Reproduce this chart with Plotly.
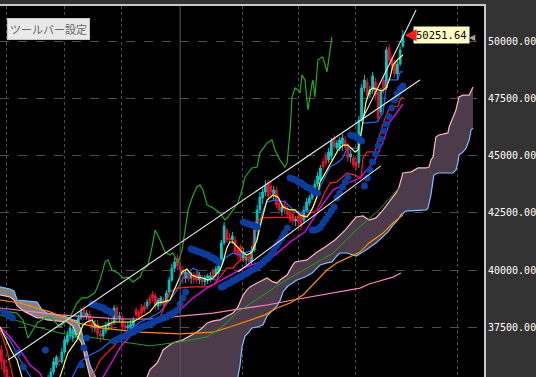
import plotly.graph_objects as go

# ---------------- candles (bar index 0..146) ----------------
bars = list(range(147))
c_open = [36520,36080,35650,35210,34860,35040,34690,34420,34600,34340,34510,34250,34420,34690,34510,34860,35040,34770,35300,35560,
          35860,36080,36000,36430,36870,37130,37040,37170,37570,37920,38260,38000,38090,37740,37480,37650,37220,37130,37350,37570,
          37700,37740,38350,37920,37920,37610,37480,37520,37610,38260,38180,38390,38440,38440,38790,38960,38880,38440,38570,38700,
          38610,39050,39570,40090,40530,40180,40010,39660,39880,39660,39750,39840,39570,39700,39490,39570,39620,40010,39840,40010,
          40360,41190,41750,41410,41320,41320,40880,41020,40530,40450,40530,40360,40880,41840,42630,43150,43410,43800,43670,43330,
          43500,42930,42540,42850,42630,42500,42450,42150,42370,42450,42190,42630,42930,43150,43410,43760,43940,44720,45030,44810,
          44980,45770,45330,45330,45510,45680,45380,44940,44900,44720,44680,46550,47950,48210,47690,47860,48210,47780,46900,48300,
          47950,49700,49260,49040,48560,49000,49780]
c_high = [36740,36170,35820,35380,35210,35210,34860,34770,34770,34690,34690,34600,34860,34860,35040,35210,35210,35430,35730,36170,
          36300,36260,36610,37090,37350,37610,37570,37740,38050,38350,38440,38260,38220,37920,37830,37830,37390,37520,37740,37920,
          37920,38480,38480,38180,38050,37740,37740,37830,37960,38390,38310,38530,38610,38740,38920,39090,39010,38790,38880,38830,
          39140,39700,40270,40530,40700,40360,40180,40010,40010,39920,39920,39970,39920,39790,39790,39840,39920,40090,40180,40270,
          41320,42100,41840,41620,41670,41490,41100,41150,40970,40700,40700,41060,41930,42850,43410,43590,43940,43940,43850,43670,
          43630,43150,42930,43060,42800,42630,42630,42370,42540,42580,42800,43150,43280,43670,43940,44290,44590,44900,45160,45330,
          45770,45900,45680,45810,45940,45860,45550,45240,45030,44900,46730,48120,48520,48390,48040,48650,48390,47910,47950,48430,
          49740,49870,49430,49170,49130,49780,50480]
c_low = [35650,35340,34950,34690,34690,34510,34250,34250,34160,34160,34080,34120,34290,34340,34420,34770,34640,34690,35210,35430,
         35730,35820,35910,36340,36740,36960,36870,37040,37390,37830,37830,37830,37610,37300,37300,37040,36870,36960,37220,37390,
         37390,37610,37740,37740,37390,37300,37300,37390,37480,37920,37830,38000,38130,38310,38440,38610,38310,38260,38440,38350,
         38480,38960,39490,39920,40010,39790,39400,39440,39490,39400,39400,39440,39400,39310,39310,39400,39490,39570,39700,39840,
         40230,41100,41190,41150,41150,40660,40450,40360,40360,40230,40180,40230,40790,41670,42500,42890,43240,43060,43150,43060,
         42710,42450,42370,42450,42280,42060,41970,41930,41930,41750,42020,42540,42800,43060,43330,43630,43850,44370,44550,44680,
         44810,45240,45240,45200,45200,45240,44720,44680,44460,44370,44460,46470,47780,47510,47510,47690,47430,46470,46770,47690,
         47860,49000,48740,48390,48300,48910,49700]
c_close = [36000,35560,35120,34860,35040,34690,34420,34600,34340,34510,34250,34420,34690,34510,34860,35040,34770,35300,35560,36000,
           36210,36000,36430,36960,37170,37480,37390,37610,37920,38180,37960,38130,37740,37480,37650,37220,37130,37390,37570,37700,
           37570,38350,37920,38000,37520,37480,37570,37650,37830,38050,37960,38130,38260,38610,38570,38790,38440,38700,38790,38480,
           39010,39570,40090,40360,40180,40010,39840,39920,39620,39790,39570,39570,39790,39490,39660,39750,39750,39700,40050,40180,
           41190,41930,41320,41320,41490,40790,40660,40530,40790,40580,40360,40880,41750,42630,43190,43410,43670,43240,43410,43500,
           42850,42630,42760,42630,42450,42190,42150,42230,42100,41930,42630,42980,43150,43500,43760,44110,44460,44500,44680,45160,
           45640,45380,45550,45680,45770,45380,44900,45070,44590,44500,46550,47950,48300,47640,47860,48470,47640,46640,47780,47860,
           49610,49170,48910,48560,49000,49610,50251.64]
last_price = 50251.64

# ---------------- indicator lines (bar index, price) ----------------
tenkan_bar = [-0.5,1.7,3.9,5.7,7.5,8.6,19.5,21.3,24.2,27.5,29.7,31.1,33.0,34.0,35.9,38.4,40.6,47.9,50.4,54.0,56.6,58.8,61.3,63.1,64.2,
              65.7,67.5,69.3,71.1,73.3,75.1,77.0,79.5,80.6,82.0,83.1,84.2,86.0,87.5,89.3,91.1,93.0,94.0,96.6,98.8,100.6,102.4,105.0,
              106.8,108.6,111.1,112.2,113.3,114.8,115.9,117.0,118.8,120.6,122.4,124.2,126.0,128.6,129.7,130.4,131.5,132.6,134.0,135.1,
              138.4,139.9,141.3,142.4,143.9,145.3,146.0]
tenkan_val = [37520,36960,36430,36080,35340,34690,34690,35340,36390,36960,37610,37740,37830,37610,37520,37610,37740,37740,37920,38180,
              38570,38610,38700,39220,39570,39920,40050,39790,39700,39660,39570,39660,40010,40360,40970,41230,41230,40970,40790,40660,
              40790,41320,41880,43060,43280,43190,42760,42630,42630,42410,42320,42500,42760,43190,43850,44070,44460,44810,45240,45460,
              45460,45160,45240,45680,46550,47340,47860,47950,47820,47950,48390,48950,49170,49300,49390]

kijun_bar = [-0.5,3.1,6.8,10.4,14.0,23.1,25.7,28.6,32.2,35.9,39.5,43.1,46.8,50.4,54.0,57.7,61.3,63.9,66.0,69.7,71.1,72.2,78.4,79.5,
             81.3,84.2,86.8,89.3,91.5,93.0,94.8,96.6,99.5,103.1,105.0,106.8,109.3,113.0,115.9,118.4,119.5,122.0,124.2,125.7,129.3,
             130.4,131.5,136.6,138.8,140.2,144.2,145.0,146.0]
kijun_val = [37390,36960,36080,35340,34690,34690,35340,36000,36300,36520,36870,37130,37390,37740,37920,38180,38700,39140,39660,40090,
             40010,39660,39570,40010,40530,40750,40660,40790,40880,41450,42500,42980,43060,42980,42760,42540,42500,42630,43630,44240,
             44500,44680,44900,45330,45330,45550,46420,46470,46860,48300,48300,48650,48650]

red_bar = [-0.5,2.0,4.2,5.7,30.8,33.0,35.9,39.5,41.3,43.1,45.7,47.9,53.3,57.0,59.5,61.3,63.9,69.7,74.8,77.0,79.5,82.0,84.2,86.8,
           91.1,92.2,94.8,108.6,111.1,114.8,115.9,117.7,119.5,122.0,125.7,128.6,130.8,131.5,133.0,135.9,137.0,139.5,141.3,144.2,
           145.3,146.0]
red_val = [37390,36520,35340,34560,34560,35340,36080,36520,36740,36960,37090,37260,37520,37740,38480,39050,39220,39270,39270,39360,
           39700,40090,40090,40450,40620,42100,42280,42320,42410,42630,42930,43410,43800,43850,44240,44150,44020,44900,45160,45160,
           45680,46640,47120,47160,47510,47560]

magenta_bar = [-0.5,3.1,6.8,10.4,14.0,17.7,35.1,37.0,40.6,43.1,46.8,50.4,54.0,59.5,65.0,69.7,74.8,82.0,87.9,94.0,99.5,105.0,110.4,
               115.9,120.6,125.0,130.4,135.9,138.8,141.3,145.0,146.0]
magenta_val = [37520,37090,36520,35860,35510,34690,34690,35340,36080,36610,37130,37480,37740,37960,38260,38790,39220,39700,40090,
               40360,40660,41230,41670,42710,43500,43760,44020,44810,45590,46470,47080,47250]

chikou_bar = [-0.5,5.7,7.9,9.7,13.0,15.9,17.7,21.3,25.0,27.5,29.3,31.1,34.0,35.9,37.7,38.8,40.2,42.4,44.2,46.0,47.9,50.4,51.5,53.3,
              54.8,55.9,57.7,59.5,61.3,62.4,64.2,65.7,66.8,67.9,69.7,71.1,72.2,73.3,74.8,77.0,79.5,81.3,82.4,84.2,86.0,87.5,88.6,
              91.1,93.0,94.0,96.6,98.4,99.5,101.3,103.1,103.9,104.6,105.0,105.7,106.8,107.9,108.6,109.3,110.4,111.1,111.5,113.0,
              113.3,114.0,114.8,115.1,116.6,117.0,118.4,118.8,119.5,120.2]
chikou_val = [38260,38130,37830,37040,37700,37920,37960,37520,37960,38570,38790,38790,39010,39570,40360,40450,40010,39880,39660,39700,
              39490,39700,40010,40230,41020,41750,41320,40790,40660,40750,40320,40880,41750,42630,43280,43630,43720,43500,42850,42710,
              42500,42190,42320,42630,42930,43500,44070,44460,44500,45110,45550,45680,45240,44810,44500,44680,45550,46120,47560,47950,
              47860,47730,48520,48300,47430,46990,48170,48300,47560,48740,49170,49300,49260,48650,49040,49610,50170]

ma_green_bar = [-0.5,10.4,21.3,39.5,54.0,65.0,74.8,80.2,86.0,90.4,96.6,102.4,111.1,120.6,129.0,137.3,144.6]
ma_green_val = [38050,37610,37260,36960,36700,36870,37090,37520,38180,38530,39010,39490,40090,40750,41750,42630,43590]

ma_orange_bar = [-0.5,6.8,17.7,27.5,35.9,50.4,65.0,77.0,83.1,90.4,95.9,100.2,105.0,109.7,114.8,118.4,122.0,126.8,130.4,133.7,
                 138.8,142.4,146.0]
ma_orange_val = [38700,38570,38180,37700,37480,37300,37220,37300,37520,37830,38050,38350,38570,38920,39570,40010,40320,40580,40790,
                 41190,41620,42060,42410]

ma_pink_bar = [-0.5,21.3,43.1,54.0,65.0,77.0,86.8,96.6,106.0,115.9,122.0,130.4,133.7,138.8,142.4,145.3]
ma_pink_val = [38350,38050,37870,37870,38000,38130,38310,38480,38700,38920,39050,39220,39400,39570,39700,39880]

# ---------------- ichimoku cloud ----------------
cloud_gray_bar = [-0.5,3.1,4.6,5.7,8.6,13.0,14.8,16.6,23.9,26.0,27.5,29.0,30.0,31.1,32.2,34.4,37.7,43.1]
cloud_gray_spanb = [39270,39180,39090,38700,38660,38610,38260,38130,37960,37830,37790,37390,36870,36430,35860,35300,34690,33900]
cloud_gray_spana = [38920,38830,38700,38440,38180,37920,37920,37830,37740,37570,37130,36870,36430,35820,35340,34690,34120,33900]

span_a_bar = [43.1,52.2,53.0,54.0,56.6,57.7,58.8,60.2,62.4,66.0,69.3,71.1,73.0,74.8,77.0,79.5,82.0,84.2,86.0,87.1,87.9,89.3,90.4,
              93.0,96.6,98.8,100.2,101.3,103.9,106.0,106.8,111.1,113.3,114.8,117.7,121.3,125.0,127.9,129.0,131.5,132.6,133.7,136.2,
              138.8,141.0,143.5,144.6,145.3,146.0,149.0,151.5,154.4,155.5,156.2,157.0,157.3,158.0,159.1,162.4,162.8,165.3,166.4,
              167.9,170.1,170.8,171.5]
span_a_val = [33900,35210,35340,35650,35950,36210,36520,36650,36830,36960,37170,37300,37480,37700,37790,37830,38000,38130,38390,38700,
              38920,39140,39270,39440,39660,39490,39440,39570,39790,40230,40360,40450,40660,40790,41010,41320,41750,42190,42320,42370,
              42280,42190,42280,42630,42980,43370,43630,43940,44240,44290,44460,44460,44500,44810,44940,45240,45810,45900,45990,46250,
              46990,47560,47640,47640,47860,47990]
span_b_bar = [43.1,72.2,85.7,86.0,86.8,87.5,88.6,89.7,91.1,93.0,95.1,96.6,98.4,100.2,101.3,102.4,104.2,105.7,107.5,110.4,113.0,
              114.8,115.9,118.4,120.2,122.0,123.1,125.7,129.0,131.5,133.7,136.2,140.6,142.4,144.2,145.3,147.1,154.4,155.1,156.2,
              157.0,157.3,158.8,164.2,165.3,166.0,166.4,167.9,169.0,170.1,170.8,171.5]
span_b_val = [33900,33900,34690,35340,35860,36650,37130,37260,37480,37520,37610,38000,38220,38440,38660,39050,39310,39440,39570,
              39700,39880,40090,40230,40320,40360,40620,40750,40750,40620,40790,40970,41190,41670,41970,42190,42410,42580,42630,42710,
              43280,43940,44150,44240,44240,44370,44680,45030,45160,45330,45680,46120,46200]

# ---------------- parabolic SAR ----------------
sar_bar = [1,2,3,4,6,8,16,29,30,31,
           33,34,35,36,37,38,39,40,
           41,42,43,44,45,46,47,48,49,50,51,52,53,54,55,56,57,58,59,60,61,62,63,64,65,66,67,
           69,70,71,72,73,74,75,76,77,78,79,
           80,81,82,83,84,85,86,87,88,89,90,91,92,93,94,95,96,97,98,99,100,101,102,103,104,
           88,89,90,91,92,93,
           105,106,107,108,109,110,111,112,113,114,115,
           113,114,115,116,117,118,119,120,121,122,123,124,125,126,
           127,128,129,130,131,
           132,133,134,135,136,137,138,139,140,141,142,143,144,145,146]
sar_val = [38180,38090,38000,37920,36390,35780,36520,35860,36610,37040,
           38530,38480,38440,38390,38350,38260,38220,38130,
           36910,36960,37040,37090,37130,37220,37260,37300,37390,37430,37520,37570,37610,37650,37700,37790,37830,37870,37920,
           37960,38050,38090,38180,38260,38530,38790,39050,
           40930,40880,40840,40790,40750,40700,40660,40580,40530,40450,40360,
           39270,39310,39400,39440,39530,39570,39660,39700,39790,39840,39920,40010,40050,40140,40230,40320,40450,40530,40660,
           40840,41060,41230,41410,41620,41840,
           42100,42060,42020,41970,41930,41880,
           44020,43980,43940,43850,43800,43720,43630,43590,43500,43410,43370,
           41750,41750,41800,41880,42060,42230,42410,42580,42760,43150,43370,43630,43850,44070,
           45900,45860,45810,45720,45640,
           43670,44020,44370,44720,45070,45420,45720,46070,46380,46690,47080,47430,47690,47910,48040]

# ---------------- trend lines ----------------
trend_a_bar = [2.4, 152.2]
trend_a_val = [36080, 48300]
trend_b_bar = [131.1, 150.8]
trend_b_val = [46550, 51350]
trend_c_bar = [86.0, 138.0]
trend_c_val = [39920, 44550]

# axis settings
y_ticks = [37500, 40000, 42500, 45000, 47500, 50000]
grid_bars = [1.7, 22.8, 43.5, 87.5, 107.9, 128.6, 166.0]
separator_bar = 65.0

fig = go.Figure()

def line(xs, ys, color, width=1.0):
    fig.add_trace(go.Scatter(x=xs, y=ys, mode="lines", line=dict(color=color, width=width),
                             hoverinfo="skip", showlegend=False))

# cloud fills
fig.add_trace(go.Scatter(x=cloud_gray_bar + cloud_gray_bar[::-1],
                         y=cloud_gray_spanb + cloud_gray_spana[::-1],
                         fill="toself", fillcolor="#808080", line=dict(width=0),
                         mode="lines", hoverinfo="skip", showlegend=False))
fig.add_trace(go.Scatter(x=span_a_bar + span_b_bar[::-1],
                         y=span_a_val + span_b_val[::-1],
                         fill="toself", fillcolor="#4b3b4b", line=dict(width=0),
                         mode="lines", hoverinfo="skip", showlegend=False))
# cloud edges
line(cloud_gray_bar + span_a_bar[1:], cloud_gray_spana + span_a_val[1:], "#ffb4c0", 1.2)
line(cloud_gray_bar + span_b_bar[1:], cloud_gray_spanb + span_b_val[1:], "#80bfff", 1.2)

# moving averages
line(ma_pink_bar, ma_pink_val, "#ff80c8", 1.2)
line(ma_orange_bar, ma_orange_val, "#ff8c00", 1.2)
line(ma_green_bar, ma_green_val, "#1fa01f", 1.0)
# lagging span
line(chikou_bar, chikou_val, "#22a822", 1.2)

# candles
fig.add_trace(go.Candlestick(x=bars, open=c_open, high=c_high, low=c_low, close=c_close,
                             increasing=dict(line=dict(color="#00c8c8", width=1), fillcolor="#00c8c8"),
                             decreasing=dict(line=dict(color="#e8102c", width=1), fillcolor="#e8102c"),
                             whiskerwidth=0, hoverinfo="skip", showlegend=False))

line(kijun_bar, kijun_val, "#2b63ff", 1.2)
line(red_bar, red_val, "#ff1e1e", 1.2)
line(magenta_bar, magenta_val, "#ff00ff", 1.2)
line(tenkan_bar, tenkan_val, "#ffff5a", 1.2)

fig.add_trace(go.Scatter(x=sar_bar, y=sar_val, mode="markers",
                         marker=dict(color="#0c3c9c", size=7, line=dict(width=0)),
                         hoverinfo="skip", showlegend=False))

line(trend_a_bar, trend_a_val, "#e6e6e6", 1.1)
line(trend_b_bar, trend_b_val, "#e6e6e6", 1.1)
line(trend_c_bar, trend_c_val, "#e6e6e6", 1.1)

fig.add_shape(type="line", xref="x", yref="paper", x0=separator_bar, x1=separator_bar, y0=0, y1=1,
              line=dict(color="#5a5a5a", width=1))

# labels
fig.add_annotation(xref="paper", yref="paper", x=0.0145, y=0.937, xanchor="left", yanchor="middle",
                   text="ツールバー設定", showarrow=False,
                   font=dict(family="Noto Sans CJK JP", size=11, color="#6a6a6a"),
                   bgcolor="#e9e9e9", bordercolor="#c8c8c8", borderwidth=1, borderpad=2)
fig.add_annotation(xref="paper", yref="y", x=0.853, y=last_price, xanchor="left", yanchor="middle",
                   text="%.2f" % last_price, showarrow=False,
                   font=dict(family="DejaVu Sans Mono", size=10.5, color="#000000"),
                   bgcolor="#ffffc4", borderpad=2)
fig.add_annotation(xref="paper", yref="y", x=0.836, y=last_price, ax=9, ay=0,
                   text="", showarrow=True, arrowhead=2, arrowsize=0.8, arrowwidth=3, arrowcolor="#ff1a1a")
fig.add_annotation(xref="paper", yref="paper", x=0.988, y=0.933, text="◀", showarrow=False,
                   font=dict(family="DejaVu Sans", size=8, color="#a0a0a0"))

fig.update_layout(
    width=536, height=377,
    margin=dict(l=0, r=52, t=6, b=0, pad=0),
    paper_bgcolor="#333333", plot_bgcolor="#000000",
    showlegend=False,
    boxgap=0.1,
    xaxis=dict(range=[-0.5, 175.5], rangeslider=dict(visible=False), side="top",
               showline=True, linecolor="#c8c8c8", linewidth=2,
               tickmode="array", tickvals=grid_bars, showticklabels=False, ticks="",
               showgrid=True, gridcolor="#4e4e4e", griddash="dot", gridwidth=1, zeroline=False, fixedrange=True),
    yaxis=dict(range=[35340, 51527], side="right", showline=True, linecolor="#c8c8c8", linewidth=2,
               tickmode="array", tickvals=y_ticks, tickformat=".2f", ticks="",
               tickfont=dict(family="DejaVu Sans Mono", size=10, color="#ffffff"),
               showgrid=True, gridcolor="#4e4e4e", griddash="dash", gridwidth=1, zeroline=False,
               automargin=False, fixedrange=True),
)

fig.write_html("out.html", include_plotlyjs=True, full_html=True,
               config={"displayModeBar": False, "staticPlot": True},
               post_script="document.body.style.margin='0';document.body.style.background='#333333';")
